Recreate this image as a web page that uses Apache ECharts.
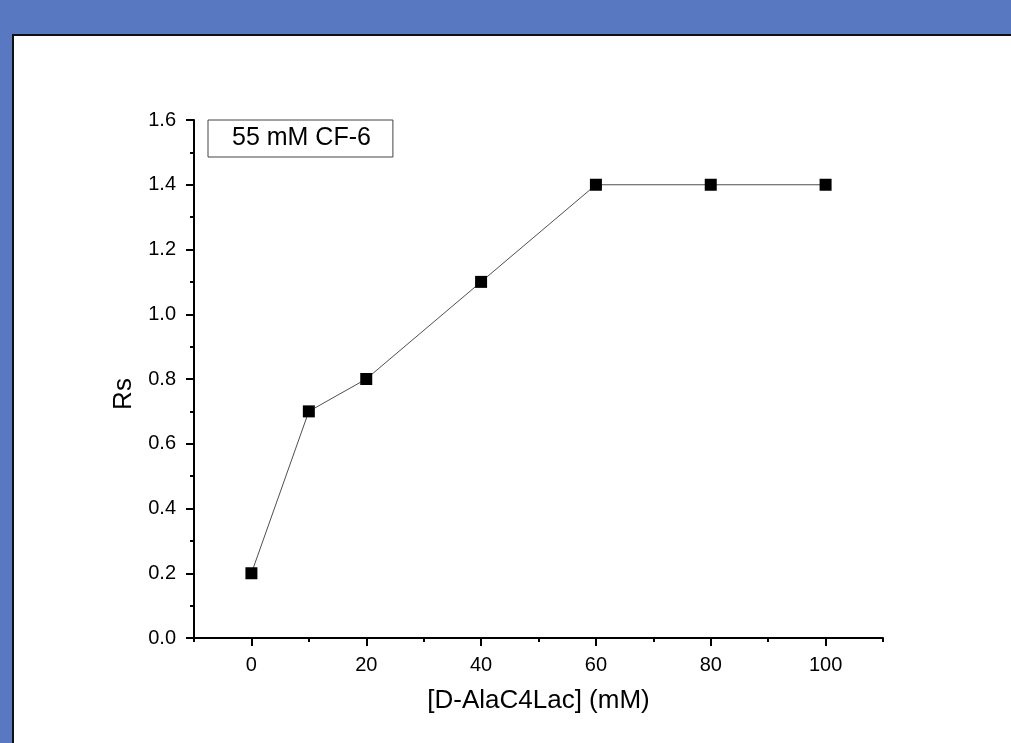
<!DOCTYPE html>
<html>
<head>
<meta charset="utf-8">
<script src="https://cdn.jsdelivr.net/npm/echarts@6/dist/echarts.min.js"></script>
<style>
  html, body { margin: 0; padding: 0; background: #5878c2; }
  #chart { width: 1011px; height: 743px; }
</style>
</head>
<body>
<div id="chart"></div>
<script>
// Resolution Rs versus D-AlaC4Lac concentration, 55 mM CF-6
const concentrations = [0, 10, 20, 40, 60, 80, 100];
const rsValues = [0.2, 0.7, 0.8, 1.1, 1.4, 1.4, 1.4];
const xMajorTicks = [0, 20, 40, 60, 80, 100];
const xMinorTicks = [-10, 10, 30, 50, 70, 90, 110];
const seriesName = '55 mM CF-6';

const chart = echarts.init(document.getElementById('chart'));
const font = '"Liberation Sans", Arial, sans-serif';

chart.setOption({
  animation: false,
  backgroundColor: '#5878c2',
  graphic: [
    // white panel with dark top/left edge
    { type: 'rect', shape: { x: 12, y: 34, width: 1000, height: 710 }, style: { fill: '#111' }, z: -10 },
    { type: 'rect', shape: { x: 14, y: 36, width: 1000, height: 710 }, style: { fill: '#ffffff' }, z: -9 }
  ],
  grid: { left: 194, top: 120, right: 128, bottom: 105 },
  legend: {
    left: 208, top: 120,
    data: [{ name: seriesName, icon: 'none' }],
    itemWidth: 0, itemHeight: 0, itemGap: 0,
    padding: [6, 22, 6, 19],
    borderColor: '#444', borderWidth: 1,
    textStyle: { fontFamily: font, fontSize: 25, color: '#000' }
  },
  xAxis: [{
    type: 'value', min: -10, max: 110, interval: 10,
    name: '[D-AlaC4Lac] (mM)', nameLocation: 'middle', nameGap: 50,
    nameTextStyle: { fontFamily: font, fontSize: 26, color: '#000' },
    axisLine: { onZero: false, lineStyle: { color: '#000', width: 2 } },
    axisTick: { show: true, inside: false, length: 8, lineStyle: { color: '#000', width: 2 }, customValues: xMajorTicks },
    axisLabel: { fontFamily: font, fontSize: 20, color: '#000', margin: 17, customValues: xMajorTicks },
    splitLine: { show: false }
  }, {
    type: 'value', min: -10, max: 110, interval: 10, position: 'bottom',
    axisLine: { show: false, onZero: false },
    axisTick: { show: true, inside: false, length: 4, lineStyle: { color: '#000', width: 2 }, customValues: xMinorTicks },
    axisLabel: { show: false },
    splitLine: { show: false }
  }],
  yAxis: {
    type: 'value', min: 0, max: 1.6, interval: 0.2,
    name: 'Rs', nameLocation: 'middle', nameGap: 50, nameRotate: 90,
    nameTextStyle: { fontFamily: font, fontSize: 26, color: '#000', padding: [0, 30, 0, 0] },
    axisLine: { show: true, onZero: false, lineStyle: { color: '#000', width: 2 } },
    axisTick: { show: true, inside: false, length: 8, lineStyle: { color: '#000', width: 2 } },
    minorTick: { show: true, splitNumber: 2, length: 4, lineStyle: { color: '#000', width: 2 } },
    axisLabel: { fontFamily: font, fontSize: 20, color: '#000', margin: 18, formatter: v => v.toFixed(1) },
    splitLine: { show: false },
    minorSplitLine: { show: false }
  },
  series: [{
    name: seriesName,
    type: 'line',
    data: concentrations.map((c, i) => [c, rsValues[i]]),
    symbol: 'rect', symbolSize: 12,
    itemStyle: { color: '#000' },
    lineStyle: { color: '#222', width: 0.8 }
  }]
});
</script>
</body>
</html>
